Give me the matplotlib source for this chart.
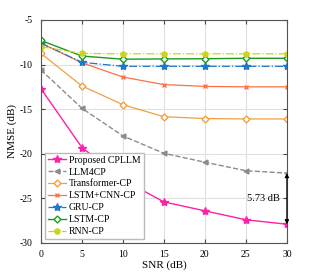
import matplotlib
matplotlib.use("Agg")
import matplotlib.pyplot as plt

plt.rcParams['font.family'] = ['Liberation Serif', 'DejaVu Serif']
plt.rcParams['axes.unicode_minus'] = False

snr = [0, 5, 10, 15, 20, 25, 30]
proposed = [-12.7, -19.3, -22.9, -25.4, -26.4, -27.4, -27.9]
llm4cp = [-10.6, -14.9, -18.0, -19.95, -20.95, -21.9, -22.17]
transformer = [-8.75, -12.4, -14.5, -15.85, -16.05, -16.1, -16.1]
lstm_cnn = [-7.6, -9.8, -11.4, -12.25, -12.45, -12.5, -12.5]
gru = [-7.6, -9.75, -10.2, -10.2, -10.2, -10.2, -10.2]
lstm = [-7.3, -9.05, -9.4, -9.37, -9.35, -9.3, -9.3]
rnn = [-8.0, -8.75, -8.8, -8.8, -8.8, -8.8, -8.8]

fig = plt.figure(figsize=(3.17, 2.73), dpi=100)
ax = fig.add_axes([0.129, 0.11, 0.776, 0.817])

ax.plot(snr, proposed, color='#FF1FA8', marker='*', ms=6, lw=1.0, label='Proposed CPLLM')
ax.plot(snr, llm4cp, color='#8C8C8C', ls='--', marker='<', ms=3.5, lw=1.0, label='LLM4CP')
ax.plot(snr, transformer, color='#F0A040', marker='D', ms=3.5, mfc='white', lw=0.9, label='Transformer-CP')
ax.plot(snr, lstm_cnn, color='#FF7043', marker='x', ms=3.5, lw=0.9, label='LSTM+CNN-CP')
ax.plot(snr, gru, color='#1F78C8', ls='-.', marker='*', ms=6, lw=0.9, label='GRU-CP')
ax.plot(snr, lstm, color='#1E9A1E', marker='D', ms=3.5, mfc='white', mew=1.0, lw=1.0, label='LSTM-CP')
ax.plot(snr, rnn, color='#C8D41E', ls='-.', marker='h', ms=4, lw=0.9, label='RNN-CP')

ax.annotate('', xy=(snr[-1], proposed[-1]), xytext=(snr[-1], llm4cp[-1]),
            arrowprops=dict(arrowstyle='<|-|>', color='black', lw=0.8,
                            mutation_scale=6, shrinkA=0, shrinkB=0))
ax.text(29.2, (proposed[-1] + llm4cp[-1]) / 2, '5.73 dB', fontsize=7.5,
        ha='right', va='center')

ax.set_xlim(0, 30)
ax.set_ylim(-30, -5)
ax.set_xticks(snr)
ax.set_yticks([-30, -25, -20, -15, -10, -5])
ax.tick_params(direction='in', top=True, right=True, labelsize=7, length=3,
               color='#444444')
ax.tick_params(axis='x', pad=5)
ax.tick_params(axis='y', pad=6)
ax.grid(True, color='#E0E0E0', lw=0.8)
for s in ax.spines.values():
    s.set_color('#555555')
ax.set_xlabel('SNR (dB)', fontsize=8, labelpad=1)
ax.set_ylabel('NMSE (dB)', fontsize=8, labelpad=2)

ax.legend(loc='lower left', fontsize=7, fancybox=False, edgecolor='#BBBBBB',
          framealpha=1, handlelength=1.9, labelspacing=0.3, borderpad=0.3,
          handletextpad=0.3, borderaxespad=0.4)

fig.savefig('out.png', dpi=100)
